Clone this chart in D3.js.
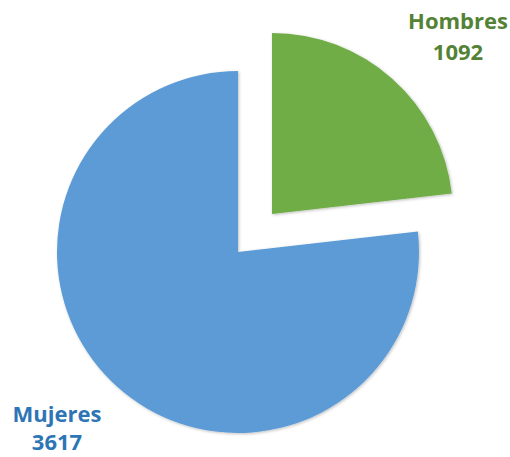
<!DOCTYPE html>
<meta charset="utf-8">
<style>
body { margin: 0; background: #fff; }
text { font-family: "Open Sans", "Liberation Sans", sans-serif; font-weight: bold; font-size: 22px; }
</style>
<body>
<script src="https://cdn.jsdelivr.net/npm/d3@7"></script>
<script>
var categories = ["Hombres", "Mujeres"];
var values = [1092, 3617];
var colors = ["#70ad47", "#5b9bd5"];
var labelColors = ["#548235", "#2e75b6"];

var width = 510, height = 457,
    cx = 238, cy = 252, radius = 181, explode = 51;

var svg = d3.select("body").append("svg")
    .attr("width", width)
    .attr("height", height);

var defs = svg.append("defs");
var f = defs.append("filter").attr("id", "shadow")
    .attr("x", "-10%").attr("y", "-10%").attr("width", "120%").attr("height", "120%");
f.append("feDropShadow").attr("dx", 1).attr("dy", 1).attr("stdDeviation", 1.5)
    .attr("flood-color", "#000").attr("flood-opacity", 0.25);

var pie = d3.pie().sort(null)(values);
var arc = d3.arc().innerRadius(0).outerRadius(radius);

var g = svg.append("g").attr("transform", "translate(" + cx + "," + cy + ")");

g.selectAll("path")
    .data(pie)
  .enter().append("path")
    .attr("d", arc)
    .attr("fill", function(d, i) { return colors[i]; })
    .attr("filter", "url(#shadow)")
    .attr("transform", function(d, i) {
      if (i != 0) return null;
      var a = (d.startAngle + d.endAngle) / 2;
      return "translate(" + (Math.sin(a) * explode) + "," + (-Math.cos(a) * explode) + ")";
    });

// labels
var labelPos = [[458, 29], [57, 422]];
var lineGap = [31, 28];
categories.forEach(function(c, i) {
  var t = svg.append("text")
      .attr("x", labelPos[i][0])
      .attr("y", labelPos[i][1])
      .attr("text-anchor", "middle")
      .attr("fill", labelColors[i]);
  t.append("tspan").attr("x", labelPos[i][0]).text(c);
  t.append("tspan").attr("x", labelPos[i][0]).attr("dy", lineGap[i]).text(values[i]);
});
</script>
</body>
